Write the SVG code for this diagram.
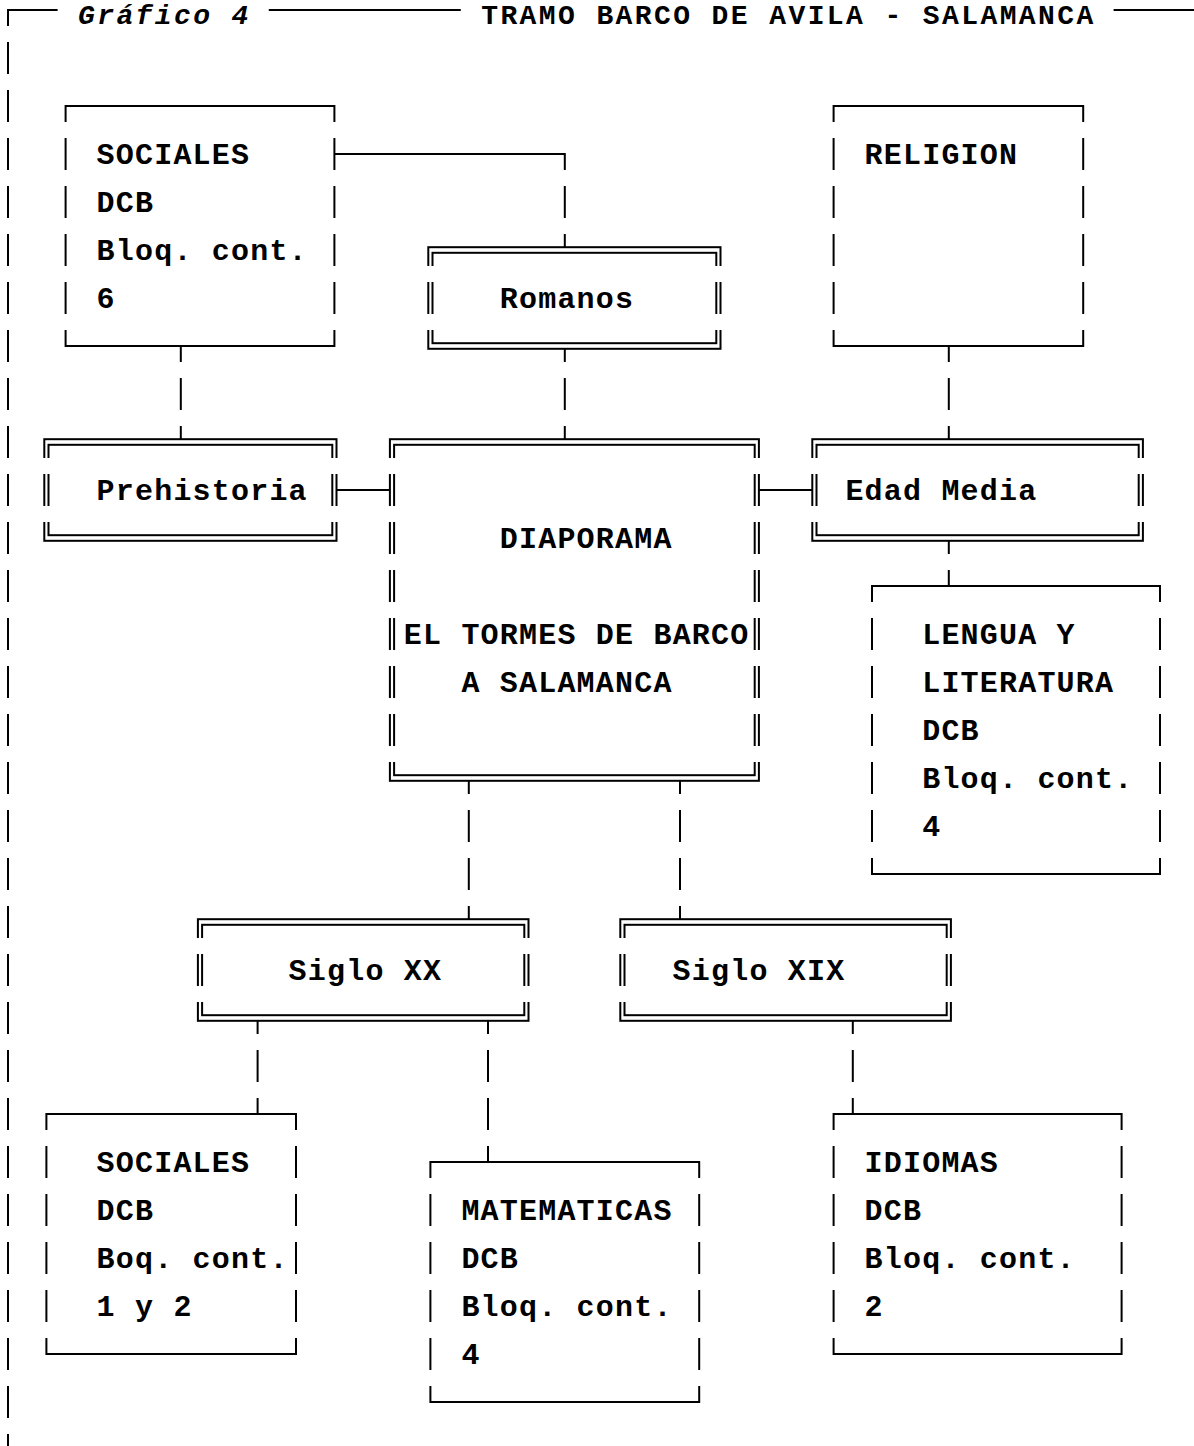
<svg xmlns="http://www.w3.org/2000/svg" width="1194" height="1446" viewBox="0 0 1194 1446">
<style>
.ln{fill:none;stroke:#000;stroke-width:2}
.t{font-family:"Liberation Mono","Courier New",monospace;font-weight:bold;font-size:30px;letter-spacing:1.2px;fill:#000}
.ti{font-family:"Liberation Mono","Courier New",monospace;font-weight:bold;font-size:28px;letter-spacing:2.4px;fill:#000}
.it{font-style:italic}
</style>
<defs>
<pattern id="bandP" patternUnits="userSpaceOnUse" x="0" y="-6" width="1194" height="48">
<rect x="0" y="0" width="1194" height="32" fill="#fff"/>
</pattern>
<mask id="bands" maskUnits="userSpaceOnUse" x="0" y="0" width="1194" height="1446">
<rect x="0" y="0" width="1194" height="1446" fill="url(#bandP)"/>
</mask>
</defs>
<rect width="1194" height="1446" fill="#fff"/>

<g id="frame">
<path class="ln" mask="url(#bands)" d="M57.6,10 H8 V1470 M268.8,10 H460.8 M1113.6,10 H1194"/>
<text class="ti it" x="78" y="24">Gráfico 4</text>
<text class="ti" x="481.2" y="24">TRAMO BARCO DE AVILA - SALAMANCA</text>
</g>

<g id="connectors" mask="url(#bands)">
<path class="ln" d="M334.4,154 H564.8 V247.2"/>
<path class="ln" d="M180.8,346 V439.2"/>
<path class="ln" d="M564.8,348.8 V439.2"/>
<path class="ln" d="M948.8,346 V439.2"/>
<path class="ln" d="M336.5,490 H389.9"/>
<path class="ln" d="M758.9,490 H812.3"/>
<path class="ln" d="M948.8,540.8 V586"/>
<path class="ln" d="M468.8,780.8 V919.2"/>
<path class="ln" d="M680,780.8 V919.2"/>
<path class="ln" d="M257.6,1020.8 V1114"/>
<path class="ln" d="M488,1020.8 V1162"/>
<path class="ln" d="M852.8,1020.8 V1114"/>
</g>

<g id="node-sociales-1">
<rect class="ln" mask="url(#bands)" x="65.6" y="106" width="268.8" height="240"/>
<text class="t" x="96.6" y="164">SOCIALES</text>
<text class="t" x="96.6" y="212">DCB</text>
<text class="t" x="96.6" y="260">Bloq. cont.</text>
<text class="t" x="96.6" y="308">6</text>
</g>

<g id="node-religion">
<rect class="ln" mask="url(#bands)" x="833.6" y="106" width="249.6" height="240"/>
<text class="t" x="864.6" y="164">RELIGION</text>
</g>

<g id="node-romanos">
<g mask="url(#bands)">
<rect class="ln" x="428.3" y="247.2" width="292.2" height="101.6"/>
<rect class="ln" x="432.5" y="252.8" width="283.8" height="90.4"/>
</g>
<text class="t" x="499.8" y="308">Romanos</text>
</g>

<g id="node-prehistoria">
<g mask="url(#bands)">
<rect class="ln" x="44.3" y="439.2" width="292.2" height="101.6"/>
<rect class="ln" x="48.5" y="444.8" width="283.8" height="90.4"/>
</g>
<text class="t" x="96.6" y="500">Prehistoria</text>
</g>

<g id="node-diaporama">
<g mask="url(#bands)">
<rect class="ln" x="389.9" y="439.2" width="369" height="341.6"/>
<rect class="ln" x="394.1" y="444.8" width="360.6" height="330.4"/>
</g>
<text class="t" x="499.8" y="548">DIAPORAMA</text>
<text class="t" x="403.8" y="644">EL TORMES DE BARCO</text>
<text class="t" x="461.4" y="692">A SALAMANCA</text>
</g>

<g id="node-edad-media">
<g mask="url(#bands)">
<rect class="ln" x="812.3" y="439.2" width="330.6" height="101.6"/>
<rect class="ln" x="816.5" y="444.8" width="322.2" height="90.4"/>
</g>
<text class="t" x="845.4" y="500">Edad Media</text>
</g>

<g id="node-lengua">
<rect class="ln" mask="url(#bands)" x="872" y="586" width="288" height="288"/>
<text class="t" x="922.2" y="644">LENGUA Y</text>
<text class="t" x="922.2" y="692">LITERATURA</text>
<text class="t" x="922.2" y="740">DCB</text>
<text class="t" x="922.2" y="788">Bloq. cont.</text>
<text class="t" x="922.2" y="836">4</text>
</g>

<g id="node-siglo-xx">
<g mask="url(#bands)">
<rect class="ln" x="197.9" y="919.2" width="330.6" height="101.6"/>
<rect class="ln" x="202.1" y="924.8" width="322.2" height="90.4"/>
</g>
<text class="t" x="288.6" y="980">Siglo XX</text>
</g>

<g id="node-siglo-xix">
<g mask="url(#bands)">
<rect class="ln" x="620.3" y="919.2" width="330.6" height="101.6"/>
<rect class="ln" x="624.5" y="924.8" width="322.2" height="90.4"/>
</g>
<text class="t" x="672.6" y="980">Siglo XIX</text>
</g>

<g id="node-sociales-2">
<rect class="ln" mask="url(#bands)" x="46.4" y="1114" width="249.6" height="240"/>
<text class="t" x="96.6" y="1172">SOCIALES</text>
<text class="t" x="96.6" y="1220">DCB</text>
<text class="t" x="96.6" y="1268">Boq. cont.</text>
<text class="t" x="96.6" y="1316">1 y 2</text>
</g>

<g id="node-matematicas">
<rect class="ln" mask="url(#bands)" x="430.4" y="1162" width="268.8" height="240"/>
<text class="t" x="461.4" y="1220">MATEMATICAS</text>
<text class="t" x="461.4" y="1268">DCB</text>
<text class="t" x="461.4" y="1316">Bloq. cont.</text>
<text class="t" x="461.4" y="1364">4</text>
</g>

<g id="node-idiomas">
<rect class="ln" mask="url(#bands)" x="833.6" y="1114" width="288" height="240"/>
<text class="t" x="864.6" y="1172">IDIOMAS</text>
<text class="t" x="864.6" y="1220">DCB</text>
<text class="t" x="864.6" y="1268">Bloq. cont.</text>
<text class="t" x="864.6" y="1316">2</text>
</g>
</svg>
